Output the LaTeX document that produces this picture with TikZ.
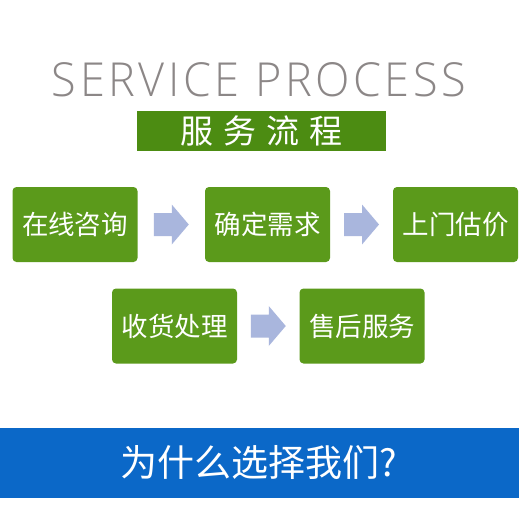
\documentclass[tikz,border=0pt]{standalone}
\usepackage{fontspec}
\setmainfont{Noto Sans CJK SC}
\newfontfamily\svcfont[LetterSpace=8,UprightFont={* Light}]{Open Sans}
\usetikzlibrary{calc}
\definecolor{boxgreen}{HTML}{5B9A1B}
\definecolor{titlegreen}{HTML}{4C8C12}
\definecolor{arrowblue}{HTML}{A9B6DD}
\definecolor{barblue}{HTML}{0B68C8}
\definecolor{headgrey}{HTML}{8C8787}
\tikzset{
  stepbox/.style={fill=boxgreen, rounded corners=4pt, minimum width=125pt, minimum height=75pt,
    inner sep=0pt, text=white, font=\fontsize{26.5pt}{30pt}\selectfont},
  pics/blockarrow/.style={code={
    \fill[arrowblue] (-17.5,-11.5) -- (0.5,-11.5) -- (0.5,-20) -- (17.5,0) -- (0.5,20) -- (0.5,11.5) -- (-17.5,11.5) -- cycle;}}
}
\begin{document}
\begin{tikzpicture}[x=1pt,y=-1pt]
\useasboundingbox (0,0) rectangle (520,520);
\fill[white] (0,0) rectangle (520,520);
% heading
\node[inner sep=0pt, text=headgrey] (head) at (259,80) {\resizebox{414pt}{34pt}{\svcfont SERVICE PROCESS}};
\node[fill=titlegreen, minimum width=249pt, minimum height=40pt, inner sep=0pt, text=white,
  font=\fontsize{33pt}{36pt}\selectfont] (title) at (261.5,131) {服\hspace{10pt}务\hspace{10pt}流\hspace{10pt}程};
% steps
\node[stepbox] (s1) at (75,224.5) {在线咨询};
\node[stepbox] (s2) at (267.5,224.5) {确定需求};
\node[stepbox] (s3) at (455.5,224.5) {上门估价};
\node[stepbox] (s4) at (174.5,326) {收货处理};
\node[stepbox] (s5) at (362,326) {售后服务};
% arrows
\pic at ($(s1.east)!0.5!(s2.west)$) {blockarrow};
\pic at ($(s2.east)!0.5!(s3.west)$) {blockarrow};
\pic at ($(s4.east)!0.5!(s5.west)$) {blockarrow};
% bottom bar
\node[fill=barblue, minimum width=520pt, minimum height=70pt, inner sep=0pt, text=white,
  font=\fontsize{37pt}{40pt}\selectfont] (bar) at (259,463) {为什么选择我们?};
\end{tikzpicture}
\end{document}
